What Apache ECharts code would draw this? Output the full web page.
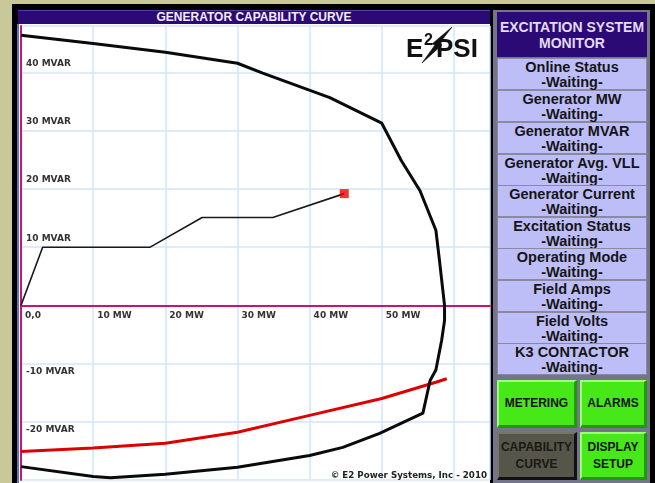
<!DOCTYPE html>
<html><head><meta charset="utf-8">
<script src="https://cdn.jsdelivr.net/npm/echarts@6/dist/echarts.min.js"></script>
<style>
html,body{margin:0;padding:0;}
body{background:#c9c899;width:655px;height:483px;overflow:hidden;position:relative;font-family:"Liberation Sans",Arial,sans-serif;}
.abs{position:absolute;box-sizing:border-box;}
#frame{left:12px;top:4px;width:643px;height:479px;background:#000;}
#bluel{left:17px;top:24px;width:2px;height:459px;background:#5a78b8;}
#plotbg{left:18px;top:24px;width:472px;height:459px;background:#fff;}
#ptitle{left:18px;top:10px;width:472px;height:14px;background:#2c0a75;border-top:1px solid #5a3aa8;color:#f2eefa;font-weight:bold;font-size:12px;line-height:13px;text-align:center;}
#chart{left:0;top:0;width:655px;height:483px;}
#panel{left:493px;top:10px;width:157px;height:473px;background:#74748a;}
#mtitle{left:497px;top:12px;width:150px;height:45px;background:#2c0a75;color:#e2dcf2;font-weight:bold;font-size:14px;line-height:16px;text-align:center;padding-top:7px;}
.cell{left:497px;width:150px;height:32px;background:#bdbdf7;border:1px solid #8a8a9e;color:#151515;font-weight:bold;font-size:14.5px;line-height:15px;text-align:center;padding-top:1px;}
.btn{font-weight:bold;font-size:12px;line-height:17px;text-align:center;display:flex;align-items:center;justify-content:center;color:#111;}
.green{background:#46e818;border-top:2px solid #9dff7a;border-left:2px solid #9dff7a;border-bottom:3px solid #1f9a00;border-right:3px solid #1f9a00;}
.dark{background:#55554a;color:#1a1a14;border-top:2px solid #75756a;border-left:2px solid #75756a;border-bottom:3px solid #111;border-right:3px solid #111;}
#copy{left:300px;top:469px;width:187px;text-align:right;font-family:"DejaVu Sans";font-weight:bold;font-size:8.7px;color:#222;line-height:12px;}
.logo{font-family:"Liberation Sans";font-weight:bold;color:#111;}
</style></head>
<body>
<div id="frame" class="abs"></div>
<div id="plotbg" class="abs"></div>
<div id="bluel" class="abs"></div>
<div id="ptitle" class="abs">GENERATOR CAPABILITY CURVE</div>
<div id="panel" class="abs"></div>
<div id="mtitle" class="abs">EXCITATION SYSTEM<br>MONITOR</div>
<div id="cells"></div>
<div class="abs btn green" style="left:497px;top:380px;width:80px;height:48px;">METERING</div>
<div class="abs btn green" style="left:580px;top:380px;width:67px;height:48px;">ALARMS</div>
<div class="abs btn dark" style="left:497px;top:432px;width:80px;height:48px;">CAPABILITY<br>CURVE</div>
<div class="abs btn green" style="left:580px;top:432px;width:67px;height:48px;">DISPLAY<br>SETUP</div>
<div id="chart" class="abs"></div>
<div class="abs logo" style="left:406px;top:35px;font-size:26px;line-height:26px;">E</div>
<div class="abs logo" style="left:424px;top:32px;font-size:16px;line-height:16px;">2</div>
<svg class="abs" style="left:418px;top:24px;" width="40" height="42"><polyline points="4,39 17,21 14,20 34,3 21,20 24,21 4,39" fill="#111" stroke="#111" stroke-width="0.6"/></svg>
<div class="abs logo" style="left:436px;top:35px;font-size:26px;line-height:26px;">PSI</div>
<div id="copy" class="abs">© E2 Power Systems, Inc - 2010</div>
<script>
// ---- data ----
const cellLabels = ['Online Status','Generator MW','Generator MVAR','Generator Avg. VLL','Generator Current','Excitation Status','Operating Mode','Field Amps','Field Volts','K3 CONTACTOR'];
const cellValues = ['-Waiting-','-Waiting-','-Waiting-','-Waiting-','-Waiting-','-Waiting-','-Waiting-','-Waiting-','-Waiting-','-Waiting-'];

const xTickValues = [0, 10, 20, 30, 40, 50];
const xTickLabels = ['0,0', '10 MW', '20 MW', '30 MW', '40 MW', '50 MW'];
const yTickValues = [-20, -10, 10, 20, 30, 40];
const yTickLabels = ['-20 MVAR', '-10 MVAR', '10 MVAR', '20 MVAR', '30 MVAR', '40 MVAR'];

// capability curve (MW, MVAR)
const capMW   = [0, 10, 20, 30, 33.5, 42.8, 50.0, 52.7, 55.3, 57.5, 58.0, 58.7, 58.7, 58.3, 57.5, 56.7, 55.7, 49.7, 44.6, 40.0, 30.0, 20.0, 12.4, 10.0, 0];
const capMVAR = [46.4, 45.0, 43.5, 41.6, 39.9, 35.7, 31.3, 24.9, 19.7, 12.9, 7.7, 0, -2.6, -6.0, -11.1, -12.9, -18.5, -22.0, -24.4, -25.8, -27.8, -29.0, -29.6, -29.4, -27.7];

// under-excitation limit (red)
const uelMW   = [0, 10, 20, 30, 40, 50, 57.5, 59.0];
const uelMVAR = [-25.1, -24.5, -23.7, -21.8, -18.9, -16.0, -13.2, -12.6];

// operating trajectory (thin black)
const trendMW   = [0, 3.0, 17.9, 25.1, 34.9, 44.8];
const trendMVAR = [0, 10.0, 10.0, 15.1, 15.1, 19.2];

// current operating point
const pointMW = [44.8];
const pointMVAR = [19.2];

// ---- panel cells ----
const cellTops = [58, 90, 122, 153.5, 185, 217, 248, 280, 312, 343];
const cellsDiv = document.getElementById('cells');
cellLabels.forEach((t, i) => {
  const d = document.createElement('div');
  d.className = 'abs cell';
  d.style.top = cellTops[i] + 'px';
  d.innerHTML = t + '<br>' + cellValues[i];
  cellsDiv.appendChild(d);
});

const zip = (a, b) => a.map((v, i) => [v, b[i]]);
const Y_MIN = -30, Y_MAX = 48, GRID_TOP = 26, GRID_BOTTOM = 3, H = 483;
const plotH = H - GRID_TOP - GRID_BOTTOM;
// shift the x axis (line + labels) from the grid bottom up to MVAR = 0
const zeroOffset = -plotH * (0 - Y_MIN) / (Y_MAX - Y_MIN);

const chart = echarts.init(document.getElementById('chart'), null, {renderer: 'canvas'});
const labFont = {fontFamily: 'DejaVu Sans', fontWeight: 'bold', fontSize: 9, color: '#333'};
chart.setOption({
  animation: false,
  backgroundColor: 'transparent',
  grid: {left: 21, right: 165, top: GRID_TOP, bottom: GRID_BOTTOM, containLabel: false, outerBoundsMode: 'none'},
  xAxis: {
    type: 'value', min: 0, max: 65, interval: 10, position: 'bottom', offset: zeroOffset,
    axisLine: {show: true, onZero: false, lineStyle: {color: '#cc1177', width: 2}},
    axisTick: {show: false},
    splitLine: {show: true, lineStyle: {color: '#d2e6fb', width: 1.5}},
    axisLabel: Object.assign({
      align: 'left', margin: 6, padding: [0, 0, 0, 4], showMaxLabel: false, showMinLabel: true,
      formatter: v => { const i = xTickValues.indexOf(v); return i >= 0 ? xTickLabels[i] : ''; }
    }, labFont)
  },
  yAxis: {
    type: 'value', min: Y_MIN, max: Y_MAX, interval: 10,
    axisLine: {show: true, onZero: false, lineStyle: {color: '#cc1177', width: 2}},
    axisTick: {show: false},
    splitLine: {show: true, lineStyle: {color: '#d2e6fb', width: 1.5}},
    axisLabel: Object.assign({
      inside: true, align: 'left', margin: 5,
      formatter: v => { const i = yTickValues.indexOf(v); if (i < 0) return ''; return v > 0 ? '{up|' + yTickLabels[i] + '}' : '{dn|' + yTickLabels[i] + '}'; },
      rich: {
        up: Object.assign({padding: [0, 0, 18, 0]}, labFont),
        dn: Object.assign({padding: [16, 0, 0, 0]}, labFont)
      }
    }, labFont)
  },
  series: [
    {type: 'line', data: zip(uelMW, uelMVAR), showSymbol: false, symbol: 'none', lineStyle: {color: '#dd0000', width: 3}, z: 3},
    {type: 'line', data: zip(capMW, capMVAR), showSymbol: false, symbol: 'none', lineStyle: {color: '#0a0a0a', width: 3, join: 'round'}, z: 4},
    {type: 'line', data: zip(trendMW, trendMVAR), showSymbol: false, symbol: 'none', lineStyle: {color: '#1a1a1a', width: 1.6}, z: 5},
    {type: 'scatter', data: zip(pointMW, pointMVAR), symbol: 'rect', symbolSize: 9, itemStyle: {color: '#ee0000'}, z: 6}
  ]
});
</script>
</body></html>
